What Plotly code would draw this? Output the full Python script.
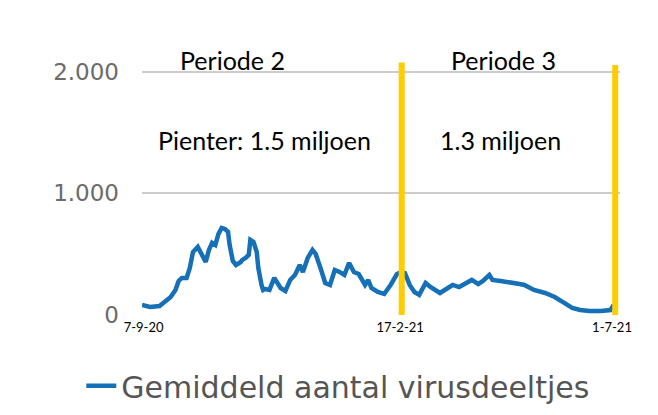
import plotly.graph_objects as go

dates = [
    "2020-09-07", "2020-09-12", "2020-09-18", "2020-09-21", "2020-09-25", "2020-09-28",
    "2020-09-30", "2020-10-02", "2020-10-05", "2020-10-07", "2020-10-09", "2020-10-12",
    "2020-10-13", "2020-10-15", "2020-10-17", "2020-10-19", "2020-10-21", "2020-10-23",
    "2020-10-25", "2020-10-27", "2020-10-29", "2020-10-31", "2020-11-01", "2020-11-03",
    "2020-11-05", "2020-11-08", "2020-11-09", "2020-11-11", "2020-11-13", "2020-11-14",
    "2020-11-16", "2020-11-18", "2020-11-19", "2020-11-21", "2020-11-22", "2020-11-23",
    "2020-11-26", "2020-11-29", "2020-12-03", "2020-12-06", "2020-12-09", "2020-12-12",
    "2020-12-15", "2020-12-17", "2020-12-20", "2020-12-23", "2020-12-25", "2020-12-28",
    "2020-12-31", "2021-01-03", "2021-01-06", "2021-01-09", "2021-01-12", "2021-01-15",
    "2021-01-18", "2021-01-21", "2021-01-25", "2021-01-27", "2021-01-29", "2021-02-02",
    "2021-02-06", "2021-02-10", "2021-02-14", "2021-02-17", "2021-02-19", "2021-02-22",
    "2021-02-25", "2021-02-28", "2021-03-04", "2021-03-07", "2021-03-10", "2021-03-13",
    "2021-03-18", "2021-03-21", "2021-03-25", "2021-03-29", "2021-04-02", "2021-04-06",
    "2021-04-09", "2021-04-13", "2021-04-15", "2021-04-20", "2021-04-26", "2021-05-02",
    "2021-05-05", "2021-05-11", "2021-05-18", "2021-05-24", "2021-05-30", "2021-06-04",
    "2021-06-09", "2021-06-15", "2021-06-22", "2021-06-28", "2021-06-30",
]
values = [
    82, 66, 74, 107, 148, 206,
    280, 305, 305, 387, 518, 560,
    535, 470, 436, 535, 593, 576,
    667, 716, 708, 683, 576, 444,
    411, 436, 453, 469, 494, 617,
    600, 518, 387, 247, 206, 214,
    206, 305, 222, 198, 288, 329,
    411, 354, 469, 535, 502, 387,
    263, 247, 370, 354, 329, 428,
    354, 337, 247, 288, 222, 189,
    173, 247, 337, 354, 345, 247,
    189, 165, 263, 230, 206, 181,
    222, 247, 230, 255, 288, 255,
    280, 329, 288, 280, 271, 255,
    247, 206, 181, 148, 99, 58,
    41, 33, 33, 41, 82,
]

x_tick_vals = ["2020-09-08", "2021-02-16", "2021-06-29"]
x_tick_text = ["7-9-20", "17-2-21", "1-7-21"]
y_tick_vals = [0, 1000, 2000]
y_tick_text = ["0", "1.000", "2.000"]

period_bounds = ["2021-02-17", "2021-07-01"]
period_tops = [2075, 2055]

period_titles = [("Periode 2", "2020-11-03"), ("Periode 3", "2021-04-22")]
period_counts = [("Pienter: 1.5 miljoen", "2020-11-23"), ("1.3 miljoen", "2021-04-20")]
count_level = 1439

fig = go.Figure()
fig.add_trace(go.Scatter(
    x=dates, y=values, mode="lines",
    name="Gemiddeld aantal virusdeeltjes",
    line=dict(color="#1570b8", width=4.5),
))

for xb, top in zip(period_bounds, period_tops):
    fig.add_shape(type="line", xref="x", yref="y", x0=xb, x1=xb, y0=0, y1=top,
                  line=dict(color="#FFCC00", width=6), layer="above")

for text, xd in period_titles:
    fig.add_annotation(x=xd, y=1.008, xref="x", yref="paper", text=text, showarrow=False,
                       yanchor="middle",
                       font=dict(family="Lato", size=25, color="#000000"))
for text, xd in period_counts:
    fig.add_annotation(x=xd, y=count_level, xref="x", yref="y", text=text, showarrow=False,
                       font=dict(family="Lato", size=25, color="#000000"))

fig.update_layout(
    width=658, height=415,
    margin=dict(l=142, r=38, t=62, b=100, autoexpand=False),
    paper_bgcolor="white", plot_bgcolor="white",
    showlegend=True,
    legend=dict(orientation="h", x=-0.127, xanchor="left", y=-0.28, yanchor="middle",
                font=dict(family="DejaVu Sans", size=30, color="#555555")),
    xaxis=dict(type="date", range=["2020-09-07", "2021-07-04"],
               tickvals=x_tick_vals, ticktext=x_tick_text,
               tickfont=dict(family="Lato", size=13, color="#000000"),
               showgrid=False, zeroline=False, showline=False, ticks="", ticklabelstandoff=3),
    yaxis=dict(range=[0, 2080], tickvals=y_tick_vals, ticktext=y_tick_text,
               tickfont=dict(family="DejaVu Sans", size=23, color="#6b6b6b"),
               showgrid=True, gridcolor="#cccccc", gridwidth=2, zeroline=False,
               showline=False, ticks="", ticklabelstandoff=22),
)

fig.write_html("out.html")
